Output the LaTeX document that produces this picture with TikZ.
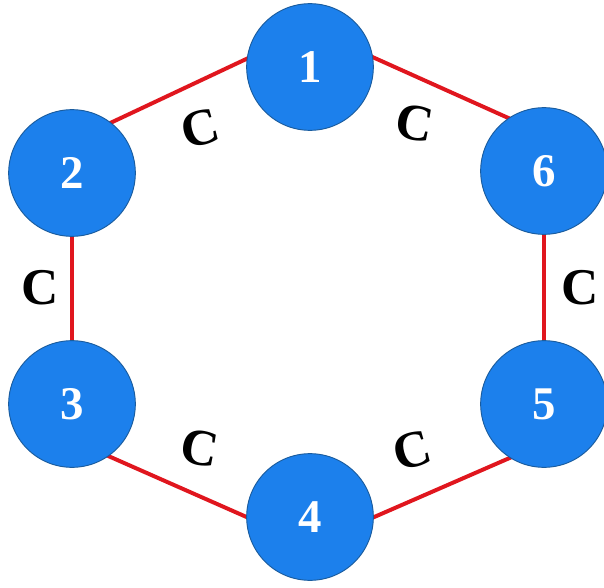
\documentclass[tikz,border=0pt]{standalone}
\usepackage{fontspec}
\setmainfont{Liberation Serif}
\usepackage{xcolor}
\usepackage{tikz}
\usetikzlibrary{positioning,calc,backgrounds}
\definecolor{nodeblue}{HTML}{1C80EC}
\definecolor{rimblue}{HTML}{1A5C9E}
\definecolor{edgered}{HTML}{E0161E}
\tikzset{
  site/.style ={circle,draw=rimblue,line width=0.8pt,fill=nodeblue,
                minimum size=3.8cm,inner sep=0pt,text=white,
                font=\fontsize{40}{40}\selectfont\bfseries},
  bond/.style ={draw=edgered,line width=3.4pt},
  clabel/.style={font=\fontsize{44}{44}\selectfont\bfseries,inner sep=0pt}
}

\begin{document}
\begin{tikzpicture}[x=0.03cm,y=-0.03cm]
        \useasboundingbox (0,0) rectangle (604,588);
        % ring sites
        \node[site] (s1) at (310,67)  {1};
        \node[site] (s2) at (72,173)  {2};
        \node[site] (s3) at (72,404)  {3};
        \node[site] (s4) at (310,517) {4};
        \node[site] (s5) at (544,404) {5};
        \node[site] (s6) at (544,171) {6};
        % ring corners, inside the sites
        \coordinate (v1) at ($(s1)+(0,-38)$);
        \coordinate (v2) at ($(s2)+(0,-32)$);
        \coordinate (v3) at ($(s3)+(0,36)$);
        \coordinate (v4) at ($(s4)+(0,28)$);
        \coordinate (v5) at ($(s5)+(0,39)$);
        \coordinate (v6) at ($(s6)+(0,-37)$);
        % bonds
        \begin{scope}[on background layer]
          \draw[bond] (v1) -- (v2) -- (v3) -- (v4) -- (v5) -- (v6) -- cycle;
        \end{scope}
        % couplings
        \node[clabel,rotate=15]  (c12) at (200,128) {C};
        \node[clabel]            (c23) at (40,288)  {C};
        \node[clabel,rotate=-10] (c34) at (200,448) {C};
        \node[clabel,rotate=15]  (c45) at (412,450) {C};
        \node[clabel]            (c56) at (580,288) {C};
        \node[clabel,rotate=-10] (c61) at (415,123) {C};
      \end{tikzpicture}
\end{document}
